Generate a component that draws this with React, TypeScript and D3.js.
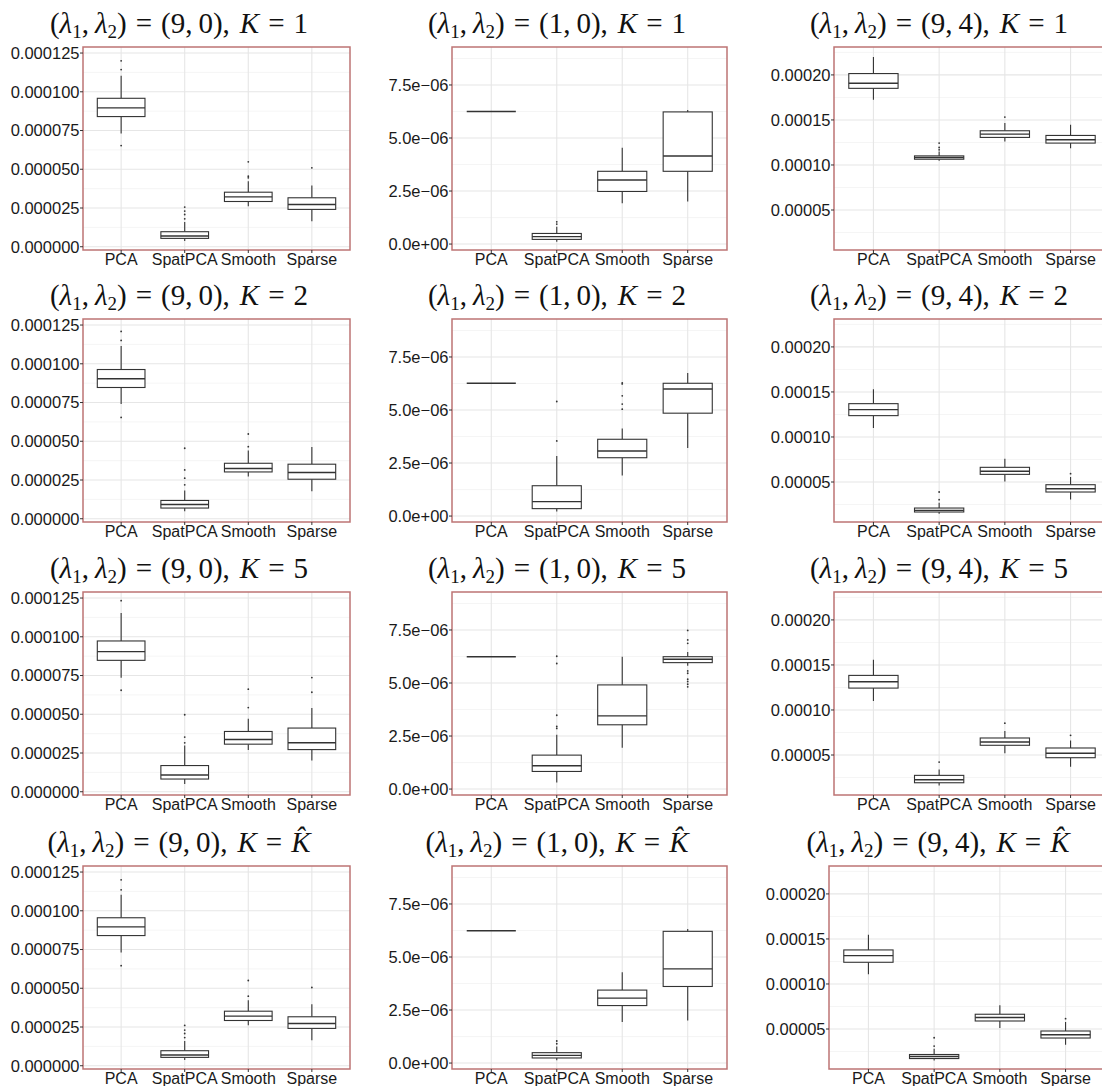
import React from "react";
import * as d3 from "d3";

const W = 1102;
const H = 1086;

const categories = ["PCA", "SpatPCA", "Smooth", "Sparse"];
const lambdaPairs = [["9", "0"], ["1", "0"], ["9", "4"]];
const kLabels = ["1", "2", "5", "hat"];

// y tick values / labels per column
const ticksCol1 = [0, 25e-6, 50e-6, 75e-6, 100e-6, 125e-6];
const tickLabelsCol1 = ["0.000000", "0.000025", "0.000050", "0.000075", "0.000100", "0.000125"];
const ticksCol2 = [0, 2.5e-6, 5e-6, 7.5e-6];
const tickLabelsCol2 = ["0.0e+00", "2.5e\u221206", "5.0e\u221206", "7.5e\u221206"];
const ticksCol3 = [50e-6, 100e-6, 150e-6, 200e-6];
const tickLabelsCol3 = ["0.00005", "0.00010", "0.00015", "0.00020"];
const minorCol1 = [12.5e-6, 37.5e-6, 62.5e-6, 87.5e-6, 112.5e-6];
const minorCol2 = [1.25e-6, 3.75e-6, 6.25e-6, 8.75e-6];
const minorCol3 = [25e-6, 75e-6, 125e-6, 175e-6, 225e-6];
const domainCol1 = [-2.1e-6, 128.9e-6];
const domainCol2 = [-0.28e-6, 9.29e-6];
const domainCol3 = [5.6e-6, 231e-6];

// box stats in units of 1e-6: [lower whisker, Q1, median, Q3, upper whisker]
// column (9,0)
const stats_90_K1 = [[73.0, 84.0, 89.6, 95.8, 110.4], [3.7, 5.4, 6.9, 9.7, 15.9], [26.2, 29.2, 32.2, 35.2, 42.3], [16.5, 24.1, 27.3, 31.6, 39.5]];
const out_90_K1 = [[120.0, 114.3, 65.3], [18.0, 20.8, 23.0, 25.6], [44.5, 45.5, 54.8], [50.9]];
const stats_90_K2 = [[74.0, 84.7, 90.3, 96.3, 111.5], [4.9, 6.9, 9.2, 11.8, 18.2], [27.2, 30.2, 32.4, 35.8, 44.0], [17.8, 25.5, 29.8, 35.2, 46.3]];
const out_90_K2 = [[120.9, 115.1, 65.4], [21.9, 26.2, 31.5, 45.5], [46.5, 54.7], []];
const stats_90_K5 = [[73.5, 84.8, 90.4, 97.3, 115.3], [5.0, 8.2, 10.8, 16.9, 29.8], [27.0, 30.7, 33.7, 38.9, 47.1], [20.1, 27.2, 31.6, 41.1, 54.1]];
const out_90_K5 = [[123.3, 65.5], [31.6, 35.3, 49.7], [54.3, 66.2], [64.2, 73.7]];
const stats_90_Kh = [[73.0, 84.0, 89.6, 95.5, 110.3], [3.7, 5.4, 6.9, 9.7, 16.0], [26.2, 29.2, 32.0, 35.2, 42.3], [16.5, 24.1, 27.3, 31.6, 39.7]];
const out_90_Kh = [[120.0, 113.5, 64.6], [18.2, 20.8, 23.0, 26.0], [44.9, 55.0], [50.5]];
// column (1,0)
const stats_10_K1 = [[6.25, 6.25, 6.25, 6.25, 6.25], [0.11, 0.22, 0.35, 0.50, 0.82], [1.92, 2.48, 3.02, 3.43, 4.54], [2.01, 3.43, 4.15, 6.23, 6.32]];
const out_10_K1 = [[], [0.94, 1.05], [], []];
const stats_10_K2 = [[6.26, 6.26, 6.26, 6.26, 6.26], [0.21, 0.35, 0.68, 1.43, 2.83], [1.91, 2.75, 3.07, 3.62, 4.13], [3.21, 4.85, 5.99, 6.26, 6.74]];
const out_10_K2 = [[], [3.54, 5.40], [5.04, 5.28, 5.67, 6.23, 6.28], []];
const stats_10_K5 = [[6.24, 6.24, 6.24, 6.24, 6.24], [0.31, 0.83, 1.10, 1.60, 2.56], [1.95, 3.03, 3.45, 4.91, 6.24], [5.81, 5.96, 6.12, 6.24, 6.46]];
const out_10_K5 = [[], [2.86, 2.95, 3.48, 5.92, 6.26], [], [6.87, 7.03, 7.48, 5.57, 5.46, 5.18, 5.07, 4.94, 4.82]];
const stats_10_Kh = [[6.24, 6.24, 6.24, 6.24, 6.24], [0.13, 0.24, 0.36, 0.49, 0.78], [1.93, 2.71, 3.06, 3.44, 4.28], [2.01, 3.61, 4.44, 6.21, 6.32]];
const out_10_Kh = [[], [0.91, 1.04], [], []];
// column (9,4)
const stats_94_K1 = [[172.5, 185.1, 190.7, 201.5, 220.0], [104.6, 106.4, 108.3, 110.1, 115.0], [126.1, 130.6, 134.3, 138.0, 146.5], [118.7, 124.3, 128.0, 132.8, 144.7]];
const out_94_K1 = [[], [116.8, 119.4, 124.3], [153.2], []];
const stats_94_K2 = [[110.0, 123.7, 130.4, 137.0, 153.0], [14.8, 16.7, 18.5, 21.1, 27.0], [50.7, 58.5, 61.9, 66.3, 75.9], [30.7, 38.9, 42.6, 47.0, 55.6]];
const out_94_K2 = [[], [30.4, 38.9], [], [59.3]];
const stats_94_K5 = [[110.1, 124.3, 131.3, 138.4, 155.8], [16.2, 19.2, 22.5, 27.4, 34.0], [51.9, 60.8, 64.5, 68.9, 76.7], [37.0, 47.0, 51.9, 57.8, 66.0]];
const out_94_K5 = [[], [42.2], [85.3], [71.9]];
const stats_94_Kh = [[110.7, 124.1, 131.5, 137.8, 154.6], [15.0, 17.2, 19.5, 21.7, 28.0], [51.1, 58.9, 62.7, 66.4, 76.4], [32.5, 40.0, 43.7, 47.8, 57.8]];
const out_94_Kh = [[], [31.0, 40.3], [], [61.5]];

const UNIT = 1e-6;

// layout
const colLeft = [83, 452, 834];
const colWidth = [267, 275, 276];
const rowTop = [47, 319, 592, 866];
const panelH = 203;
const titleCx = [179, 557, 939];

const panelStats = [
  [stats_90_K1, stats_10_K1, stats_94_K1],
  [stats_90_K2, stats_10_K2, stats_94_K2],
  [stats_90_K5, stats_10_K5, stats_94_K5],
  [stats_90_Kh, stats_10_Kh, stats_94_Kh],
];
const panelOut = [
  [out_90_K1, out_10_K1, out_94_K1],
  [out_90_K2, out_10_K2, out_94_K2],
  [out_90_K5, out_10_K5, out_94_K5],
  [out_90_Kh, out_10_Kh, out_94_Kh],
];
const colTicks = [ticksCol1, ticksCol2, ticksCol3];
const colTickLabels = [tickLabelsCol1, tickLabelsCol2, tickLabelsCol3];
const colMinor = [minorCol1, minorCol2, minorCol3];
const colDomain = [domainCol1, domainCol2, domainCol3];

const BORDER = "#bd7474";
const INK = "#333333";
const SANS = "'Liberation Sans', Arial, Helvetica, sans-serif";
const SERIF = "'Liberation Serif', 'DejaVu Serif', serif";

function Title({ cx, y, lam, k }: { cx: number; y: number; lam: string[]; k: string }) {
  const fs = 29;
  const sub = 19;
  const gap = 9;
  const comma = 6;
  return (
    <text x={cx} y={y} textAnchor="middle" fontFamily={SERIF} fontSize={fs} fill="#111">
      <tspan>(</tspan>
      <tspan fontStyle="italic">λ</tspan>
      <tspan fontSize={sub} dy={5}>1</tspan>
      <tspan dy={-5}>,</tspan>
      <tspan dx={comma} fontStyle="italic">λ</tspan>
      <tspan fontSize={sub} dy={5}>2</tspan>
      <tspan dy={-5}>)</tspan>
      <tspan dx={gap}>=</tspan>
      <tspan dx={gap}>{`(${lam[0]},`}</tspan>
      <tspan dx={comma}>{`${lam[1]}),`}</tspan>
      <tspan dx={comma + 4} fontStyle="italic">K</tspan>
      <tspan dx={gap}>=</tspan>
      {k === "hat" ? (
        <tspan dx={gap} fontStyle="italic">{"K\u0302"}</tspan>
      ) : (
        <tspan dx={gap}>{k}</tspan>
      )}
    </text>
  );
}

function Panel({ r, c }: { r: number; c: number }) {
  const left = colLeft[c] + (r === 3 && c === 2 ? -5 : 0);
  const width = colWidth[c];
  const top = rowTop[r];
  const bottom = top + panelH;
  const x = d3.scalePoint<string>().domain(categories).range([left, left + width]).padding(0.6);
  const y = d3.scaleLinear().domain(colDomain[c]).range([bottom, top]);
  const bw = x.step() * 0.75;
  const stats = panelStats[r][c];
  const outs = panelOut[r][c];
  return (
    <g>
      <rect x={left} y={top} width={width} height={panelH} fill="#fff" />
      {colMinor[c].map((v, i) =>
        y(v) > top && y(v) < bottom ? (
          <line key={"mn" + i} x1={left} x2={left + width} y1={y(v)} y2={y(v)} stroke="#f3f3f3" strokeWidth={0.8} />
        ) : null
      )}
      {colTicks[c].map((v, i) => (
        <line key={"mj" + i} x1={left} x2={left + width} y1={y(v)} y2={y(v)} stroke="#e6e6e6" strokeWidth={1.1} />
      ))}
      {categories.map((cat) => (
        <line key={"vx" + cat} x1={x(cat)} x2={x(cat)} y1={top} y2={bottom} stroke="#e6e6e6" strokeWidth={1.1} />
      ))}
      {categories.map((cat, i) => {
        const s = stats[i].map((v) => y(v * UNIT));
        const cx = x(cat) as number;
        return (
          <g key={"bx" + cat} stroke={INK} strokeWidth={1.1} fill="#fff">
            <line x1={cx} x2={cx} y1={s[4]} y2={s[3]} />
            <line x1={cx} x2={cx} y1={s[1]} y2={s[0]} />
            <rect x={cx - bw / 2} y={s[3]} width={bw} height={Math.max(0, s[1] - s[3])} />
            <line x1={cx - bw / 2} x2={cx + bw / 2} y1={s[2]} y2={s[2]} strokeWidth={1.4} />
            {outs[i].map((o, j) => (
              <circle key={j} cx={cx} cy={y(o * UNIT)} r={0.9} fill={INK} stroke="none" />
            ))}
          </g>
        );
      })}
      <rect x={left} y={top} width={width} height={panelH} fill="none" stroke={BORDER} strokeWidth={1.5} />
      {colTicks[c].map((v, i) => (
        <g key={"yt" + i}>
          <line x1={left - 3} x2={left} y1={y(v)} y2={y(v)} stroke={INK} strokeWidth={1} />
          <text x={left - 3.5} y={y(v)} dy="0.35em" textAnchor="end" fontFamily={SANS} fontSize={16.5} fill="#1a1a1a">
            {colTickLabels[c][i]}
          </text>
        </g>
      ))}
      {categories.map((cat) => (
        <g key={"xt" + cat}>
          <line x1={x(cat)} x2={x(cat)} y1={bottom} y2={bottom + 3} stroke={INK} strokeWidth={1} />
          <text x={x(cat)} y={bottom + 15} textAnchor="middle" fontFamily={SANS} fontSize={16} fill="#1a1a1a">
            {cat}
          </text>
        </g>
      ))}
      <Title cx={titleCx[c] + (r === 3 && c === 2 ? -1 : 0)} y={top - 14} lam={lambdaPairs[c]} k={kLabels[r]} />
    </g>
  );
}

export default function App() {
  const cells: [number, number][] = [];
  for (let r = 0; r < 4; r++) for (let c = 0; c < 3; c++) cells.push([r, c]);
  return (
    <svg width={W} height={H} style={{ position: "absolute", left: 0, top: 0, background: "#fff" }}>
      <rect width={W} height={H} fill="#fff" />
      {cells.map(([r, c]) => (
        <Panel key={`${r}-${c}`} r={r} c={c} />
      ))}
    </svg>
  );
}
